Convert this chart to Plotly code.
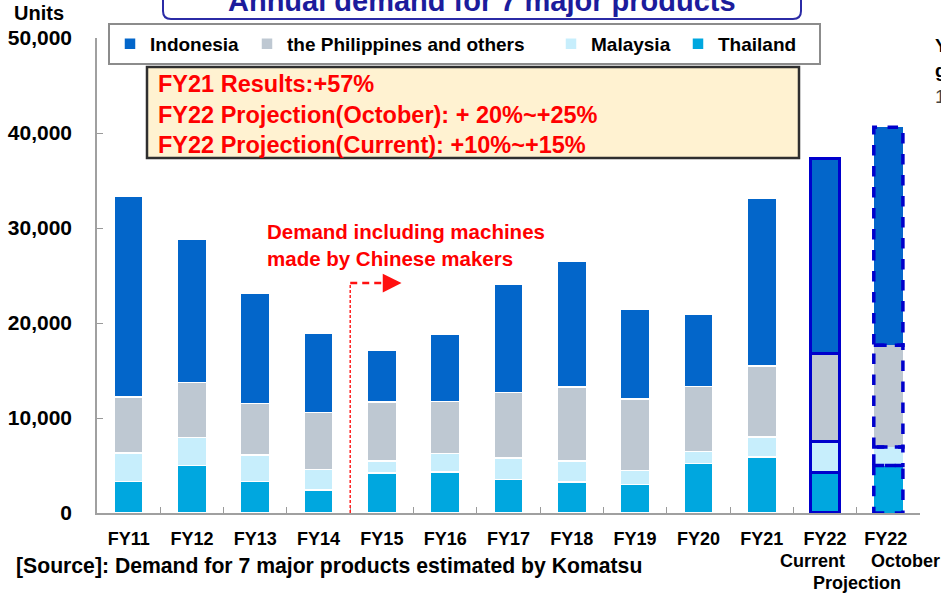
import plotly.graph_objects as go

# ---------------- data ----------------
fiscal_years = ["FY11", "FY12", "FY13", "FY14", "FY15", "FY16", "FY17", "FY18",
                "FY19", "FY20", "FY21", "FY22", "FY22"]
thailand = [3300, 5000, 3300, 2400, 4200, 4300, 3550, 3250, 3000, 5200, 5900, 4250, 5000]
malaysia = [3000, 2950, 2800, 2200, 1250, 1950, 2250, 2200, 1500, 1300, 2100, 3300, 1950]
philippines = [5900, 5800, 5450, 6000, 6250, 5500, 6900, 7800, 7500, 6800, 7450, 9250, 10700]
indonesia = [21100, 15100, 11600, 8300, 5400, 7050, 11350, 13250, 9400, 7600, 17650, 20500, 22950]
y_ticks = [0, 10000, 20000, 30000, 40000, 50000]

series = [
    ("Thailand", thailand, "#00A7DF", 96),
    ("Malaysia", malaysia, "#C7EEFC", 82),
    ("the Philippines and others", philippines, "#BEC8D2", 259),
    ("Indonesia", indonesia, "#0366CA", 92),
]

FONT = "Liberation Sans, Arial, sans-serif"
W, H = 941, 593
ML, MR, MT, MB = 97, 21, 38, 80
PW, PH = W - ML - MR, H - MT - MB


def px(x):
    return (x - ML) / PW


def py(y):
    return (H - MB - y) / PH


# unique category keys (second FY22 distinguished by trailing space)
cats = []
for lab in fiscal_years:
    k = lab
    while k in cats:
        k += " "
    cats.append(k)

n = len(cats)
current_idx = n - 2
october_idx = n - 1
BLUE_EDGE = "#0000CC"

fig = go.Figure()
for name, vals, color, lgw in series:
    lw = [1.5] * n
    lc = ["white"] * n
    lw[current_idx] = 3.5
    lc[current_idx] = BLUE_EDGE
    lw[october_idx] = 0
    fig.add_trace(go.Bar(
        x=cats, y=vals, name=name, legendwidth=lgw,
        marker=dict(color=color, line=dict(color=lc, width=lw)),
        hovertemplate=name + ": %{y:,}<extra></extra>",
    ))

shapes = []
annotations = []

# dashed outlines for the October projection segments
bar_half = (1 - 0.54) / 2
base = 0
for name, vals, color, lgw in series:
    v = vals[october_idx]
    shapes.append(dict(
        type="rect", xref="x", yref="y",
        x0=october_idx - bar_half, x1=october_idx + bar_half,
        y0=base, y1=base + v,
        line=dict(color=BLUE_EDGE, width=3.5, dash="dash"),
        fillcolor="rgba(0,0,0,0)", layer="above",
    ))
    base += v

# title box with rounded bottom corners
x0, x1, yb, yt, r = 163, 801, 19, -30, 8
path = (f"M {px(x0)},{py(yt)} L {px(x0)},{py(yb - r)} "
        f"Q {px(x0)},{py(yb)} {px(x0 + r)},{py(yb)} "
        f"L {px(x1 - r)},{py(yb)} Q {px(x1)},{py(yb)} {px(x1)},{py(yb - r)} "
        f"L {px(x1)},{py(yt)}")
shapes.append(dict(type="path", xref="paper", yref="paper", path=path,
                   line=dict(color="#2B2BA6", width=2), layer="above"))
annotations.append(dict(
    x=px(482), y=py(1), xref="paper", yref="paper", xanchor="center", yanchor="middle",
    text="<b>Annual demand for 7 major products</b>", showarrow=False,
    font=dict(family=FONT, size=29, color="#1C1C9C")))

# red results box
shapes.append(dict(type="rect", xref="paper", yref="paper",
                   x0=px(147), x1=px(799), y0=py(158), y1=py(67),
                   fillcolor="#FFF2D1", line=dict(color="#2F2F2F", width=2.5), layer="above"))
annotations.append(dict(
    x=px(156), y=py(114.5), xref="paper", yref="paper", xanchor="left", yanchor="middle",
    align="left", showarrow=False,
    text="<b>FY21 Results:+57%<br>FY22 Projection(October): + 20%~+25%<br>"
         "FY22 Projection(Current): +10%~+15%</b>",
    font=dict(family=FONT, size=23.5, color="#FF0000")))

# Chinese makers note with dashed divider and arrow
arrow_y = 24200
shapes.append(dict(type="line", xref="x", yref="y", x0=3.5, x1=3.5, y0=0, y1=arrow_y,
                   line=dict(color="#FF2020", width=1.5, dash="3px,2px")))
shapes.append(dict(type="line", xref="x", yref="y", x0=3.5, x1=4.1, y0=arrow_y, y1=arrow_y,
                   line=dict(color="#FF1010", width=2.5, dash="7px,5px")))
annotations.append(dict(
    x=4.31, y=arrow_y, xref="x", yref="y", ax=-18, ay=0, axref="pixel", ayref="pixel",
    showarrow=True, arrowhead=2, arrowsize=1.5, arrowwidth=2.5, arrowcolor="#FF1010", text=""))
annotations.append(dict(
    x=px(265), y=py(245), xref="paper", yref="paper", xanchor="left", yanchor="middle",
    align="left", showarrow=False,
    text="<b>Demand including machines<br>made by Chinese makers</b>",
    font=dict(family=FONT, size=20.5, color="#FF0000")))

# axis title and other labels
annotations.append(dict(x=px(39), y=py(13), xref="paper", yref="paper", xanchor="center",
                        yanchor="middle", showarrow=False, text="<b>Units</b>",
                        font=dict(family=FONT, size=20, color="black")))
for txt, xc, yc in [("Current", 812, 561), ("October", 905, 561), ("Projection", 857, 583)]:
    annotations.append(dict(x=px(xc), y=py(yc), xref="paper", yref="paper", xanchor="center",
                            yanchor="middle", showarrow=False, text=f"<b>{txt}</b>",
                            font=dict(family=FONT, size=18, color="black")))
annotations.append(dict(x=px(14), y=py(566), xref="paper", yref="paper", xanchor="left",
                        yanchor="middle", showarrow=False,
                        text="<b>[Source]: Demand for 7 major products estimated by Komatsu</b>",
                        font=dict(family=FONT, size=21.2, color="black")))
for txt, yc, bold, col in [("Y", 45, True, "black"), ("g", 70, True, "black"), ("1", 96, False, "#444")]:
    annotations.append(dict(x=px(933), y=py(yc), xref="paper", yref="paper", xanchor="left",
                            yanchor="middle", showarrow=False,
                            text=f"<b>{txt}</b>" if bold else txt,
                            font=dict(family=FONT, size=19, color=col)))

fig.update_layout(
    width=W, height=H,
    margin=dict(l=ML, r=MR, t=MT, b=MB, autoexpand=False),
    barmode="stack", bargap=0.54,
    plot_bgcolor="white", paper_bgcolor="white",
    font=dict(family=FONT, color="black"),
    showlegend=True,
    legend=dict(orientation="h", x=px(108), y=py(23), xanchor="left", yanchor="top",
                traceorder="reversed", bgcolor="white", bordercolor="#8C8C8C", borderwidth=2,
                font=dict(family=FONT, size=19, color="black", weight="bold"),
                itemwidth=30, tracegroupgap=0),
    xaxis=dict(type="category", categoryorder="array", categoryarray=cats,
               tickson="boundaries", ticks="inside", ticklen=6, tickcolor="#9A9A9A",
               showline=True, linecolor="#A0A0A0", linewidth=2, showgrid=False,
               tickfont=dict(family=FONT, size=18, color="black", weight="bold"),
               ticklabelstandoff=8, range=[-0.5, n - 0.5]),
    yaxis=dict(range=[0, 50000], tickvals=y_ticks, tickformat=",", ticks="inside",
               ticklen=6, tickcolor="#9A9A9A", showline=True, linecolor="#A0A0A0", linewidth=1.5,
               showgrid=False, zeroline=False,
               tickfont=dict(family=FONT, size=21, color="black", weight="bold"),
               ticklabelstandoff=19),
    shapes=shapes, annotations=annotations,
)

fig.write_html("out.html", config={"displayModeBar": False},
               post_script="document.body.style.margin='0';")
